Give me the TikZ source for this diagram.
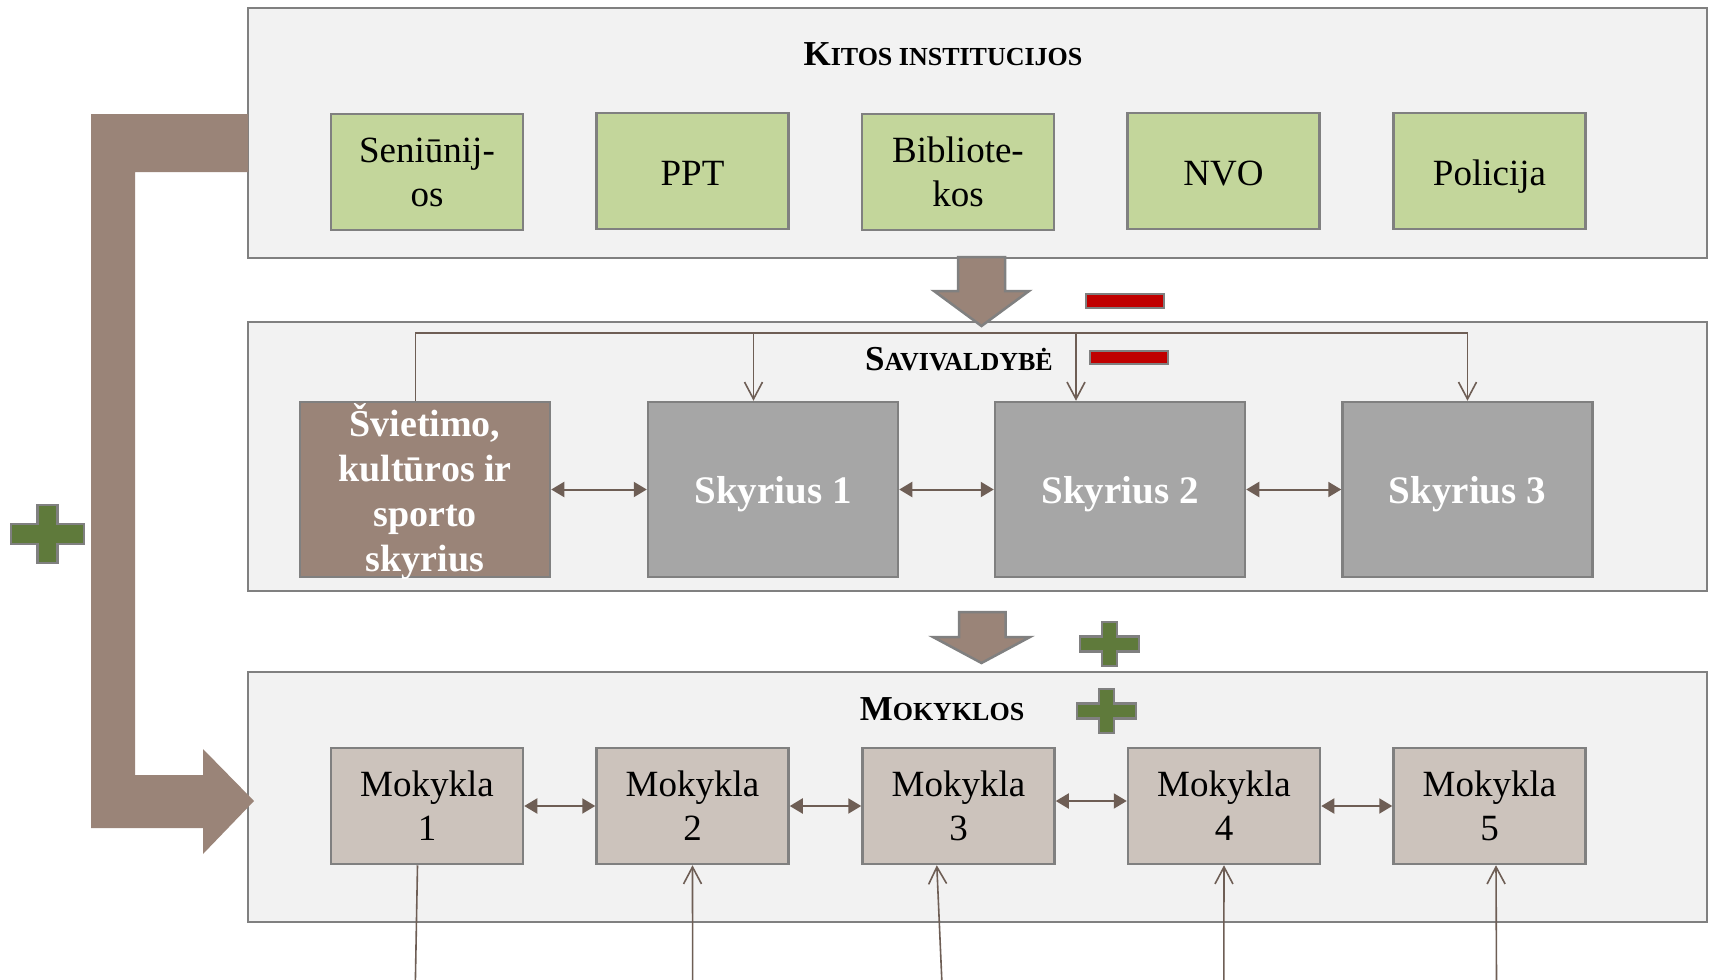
\documentclass[tikz,border=0pt]{standalone}
\usepackage{fontspec}
\setmainfont{Liberation Serif}
\usetikzlibrary{arrows.meta,calc}
\definecolor{contfill}{HTML}{F2F2F2}
\definecolor{bordergray}{HTML}{808080}
\definecolor{greenfill}{HTML}{C3D69B}
\definecolor{brownfill}{HTML}{9A8478}
\definecolor{skyfill}{HTML}{A6A6A6}
\definecolor{mokfill}{HTML}{CCC3BC}
\definecolor{conncol}{HTML}{6E5E55}
\definecolor{minusred}{HTML}{C00000}
\definecolor{plusgreen}{HTML}{5F7A3B}
\newcommand{\myreg}{\fontsize{37}{44}\selectfont}
\newcommand{\myboldf}{\fontsize{39}{44}\selectfont\bfseries}
\newcommand{\mysvf}{\fontsize{38}{45}\selectfont\bfseries}
\newcommand{\mytitle}[2]{{\bfseries\fontsize{35}{40}\selectfont #1\fontsize{26}{40}\selectfont #2}}
\newcommand{\centredlines}[1]{\vbox to 0pt{\vss\kern9pt\hbox{\begin{tabular}{@{}c@{}}#1\end{tabular}}\vss}}
\newcommand{\plusshape}[6]{%
  \filldraw[plusst] (#1-#5,#2-#4) -- (#1+#5,#2-#4) -- (#1+#5,#2-#6) -- (#1+#3,#2-#6)
   -- (#1+#3,#2+#6) -- (#1+#5,#2+#6) -- (#1+#5,#2+#4) -- (#1-#5,#2+#4)
   -- (#1-#5,#2+#6) -- (#1-#3,#2+#6) -- (#1-#3,#2-#6) -- (#1-#5,#2-#6) -- cycle;}
\tikzset{
  cont/.style={draw=bordergray, fill=contfill, line width=2.5pt, inner sep=0pt, minimum width=1459pt},
  gbox/.style={draw=bordergray, fill=greenfill, line width=2.5pt, minimum width=192pt, minimum height=116pt, inner sep=0pt, align=center, font=\myreg},
  oneline/.style={text height=28pt, text depth=0pt},
  mbox/.style={draw=bordergray, fill=mokfill, line width=2.5pt, minimum width=192pt, minimum height=116pt, inner sep=0pt, align=center, font=\myreg},
  sbox/.style={draw=bordergray, fill=skyfill, line width=2.5pt, minimum width=250pt, minimum height=175pt, inner sep=0pt, align=center, text=white, font=\myboldf, text height=27pt, text depth=0pt},
  svbox/.style={draw=bordergray, fill=brownfill, line width=2.5pt, minimum width=250pt, minimum height=175pt, inner sep=0pt, text=white, font=\mysvf},
  ttl/.style={anchor=base, inner sep=0pt},
  dbl/.style={draw=conncol, line width=2pt, <->, >={Triangle[length=13pt,width=15pt]}},
  conn/.style={draw=conncol, line width=1.6pt},
  connar/.style={conn, ->, >={Straight Barb[length=17pt,width=18pt]}},
  bigarrow/.style={fill=brownfill, draw=bordergray, line width=2.5pt, line join=miter},
  lshape/.style={fill=brownfill},
  minusst/.style={fill=minusred, draw=bordergray, line width=2.5pt},
  plusst/.style={fill=plusgreen, draw=bordergray, line width=2.5pt}
}
\begin{document}
\begin{tikzpicture}[x=1pt,y=-1pt]
\useasboundingbox (0,0) rectangle (1711,980);
\fill[white] (0,0) rectangle (1711,980);

% containers
\node[cont, minimum height=250pt] (top) at (977.5,133) {};
\node[cont, minimum height=269pt] (mid) at (977.5,456.5) {};
\node[cont, minimum height=250pt] (bot) at (977.5,797) {};

% titles
\node[ttl] (t1) at (943,65) {\mytitle{K}{ITOS INSTITUCIJOS}};
\node[ttl] (t2) at (959,370) {\mytitle{S}{AVIVALDYBĖ}};
\node[ttl] (t3) at (942,720) {\mytitle{M}{OKYKLOS}};

% green boxes
\node[gbox] (g1) at (427,172) {Seniūnij-\\os};
\node[gbox, oneline] (g2) at (692.5,171) {PPT};
\node[gbox] (g3) at (958,172) {Bibliote-\\kos};
\node[gbox, oneline] (g4) at (1223.5,171) {NVO};
\node[gbox, oneline] (g5) at (1489.5,171) {Policija};

% departments
\node[svbox] (sv) at (425,489.5) {\centredlines{Švietimo,\\kultūros ir\\sporto\\skyrius}};
\node[sbox] (s1) at (773,489.5) {Skyrius 1};
\node[sbox] (s2) at (1120,489.5) {Skyrius 2};
\node[sbox] (s3) at (1467.5,489.5) {Skyrius 3};

% schools
\node[mbox] (m1) at (427,806) {Mokykla\\1};
\node[mbox] (m2) at (692.5,806) {Mokykla\\2};
\node[mbox] (m3) at (958.5,806) {Mokykla\\3};
\node[mbox] (m4) at (1224,806) {Mokykla\\4};
\node[mbox] (m5) at (1489.5,806) {Mokykla\\5};

% bus from education department
\coordinate (bus) at (0,333);
\coordinate (svout) at ([xshift=-9.5pt]sv.north);
\coordinate (s1in) at ([xshift=-19.5pt]s1.north);
\coordinate (s2in) at ([xshift=-44pt]s2.north);
\draw[connar] (svout) |- (bus -| s3.north) -- (s3.north);
\draw[connar] (bus -| s1in) -- (s1in);
\draw[connar] (bus -| s2in) -- (s2in);

% double arrows
\draw[dbl] (sv.east) -- (s1.west);
\draw[dbl] (s1.east) -- (s2.west);
\draw[dbl] (s2.east) -- (s3.west);
\draw[dbl] (m1.east) -- (m2.west);
\draw[dbl] (m2.east) -- (m3.west);
\draw[dbl] ([yshift=5pt]m3.east) -- ([yshift=5pt]m4.west);
\draw[dbl] (m4.east) -- (m5.west);

% lines from below
\coordinate (b1) at (415.4,980);
\coordinate (b2) at (692.6,980);
\coordinate (b3) at (941.8,980);
\coordinate (b4) at (1223.8,980);
\coordinate (b5) at (1496.5,980);
\draw[conn] (b1) -- ([xshift=-9.5pt]m1.south);
\draw[connar] (b2) -- (m2.south);
\draw[connar] (b3) -- ([xshift=-21.7pt]m3.south);
\draw[connar] (b4) -- (m4.south);
\draw[connar] (b5) -- ([xshift=6.5pt]m5.south);

% big block arrows
\filldraw[bigarrow] (958,257) -- (1005,257) -- (1005,291) -- (1029,291) -- (981.5,326) -- (934,291) -- (958,291) -- cycle;
\filldraw[bigarrow] (959,612) -- (1005.5,612) -- (1005.5,637) -- (1030,637) -- (981.5,663) -- (933,637) -- (959,637) -- cycle;
\fill[lshape] (248,114) -- (91,114) -- (91,828) -- (203,828) -- (203,854) -- (254,801) -- (203,749) -- (203,775) -- (135,775) -- (135,172) -- (248,172) -- cycle;

% minus signs
\filldraw[minusst] (1086,294) rectangle (1164,308);
\filldraw[minusst] (1090,351) rectangle (1168,364);

% plus signs
\plusshape{1109.5}{644}{29.5}{22}{7.5}{7.5}
\plusshape{1106.5}{711}{29.5}{22}{7.5}{7.5}
\plusshape{47.5}{534}{36.5}{29}{10}{10}
\end{tikzpicture}
\end{document}
